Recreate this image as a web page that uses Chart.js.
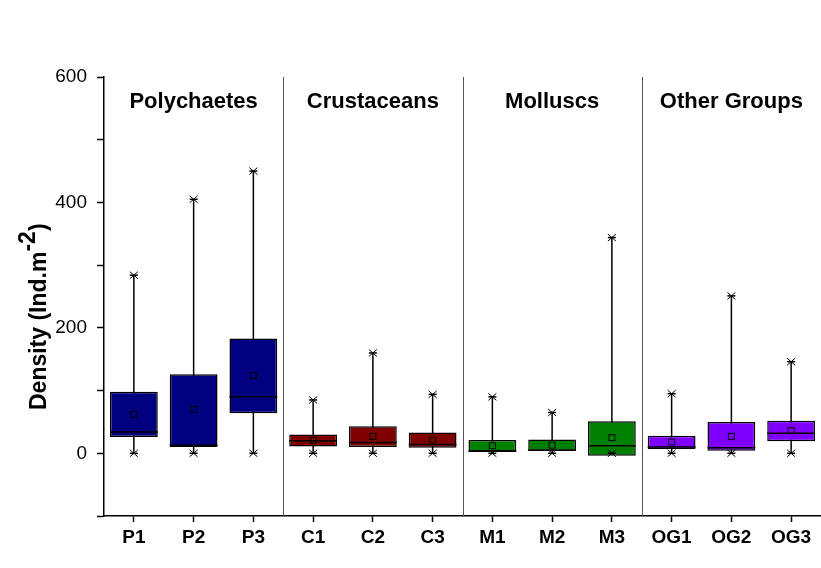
<!DOCTYPE html>
<html>
<head>
<meta charset="utf-8">
<script src="https://cdn.jsdelivr.net/npm/chart.js@4"></script>
<style>
  html, body { margin: 0; padding: 0; background: #fff; }
  #wrap { width: 821px; height: 568px; position: relative; }
</style>
</head>
<body>
<div id="wrap"><canvas id="boxChart"></canvas></div>
<script>
// Data
const categories = ['P1', 'P2', 'P3', 'C1', 'C2', 'C3', 'M1', 'M2', 'M3', 'OG1', 'OG2', 'OG3'];
const groupNames = ['Polychaetes', 'Crustaceans', 'Molluscs', 'Other Groups'];
const groupColors = ['#000080', '#800000', '#008000', '#8000ff'];
const groupOf = [0, 0, 0, 1, 1, 1, 2, 2, 2, 3, 3, 3];
const q1 = [26, 10, 64, 11, 10, 9, 2, 4, -4, 7, 4, 19];
const q3 = [98, 126, 183, 30, 43, 33, 21, 22, 51, 28, 50, 52];
const median = [34, 13, 90, 20, 17, 14, 4, 5, 12, 10, 9, 32];
const mean = [62, 70, 124, 21, 27, 21, 12, 13, 25, 18, 27, 36];
const whiskerLow = [0, 0, 0, 0, 0, 0, 0, 0, 0, 0, 0, 0];
const whiskerHigh = [284, 405, 450, 85, 160, 94, 90, 65, 344, 95, 251, 146];
const labelValue = 560; // height where the group names sit
const yTitle = ['Density (Ind.m', '-2', ')']; // text, superscript, closing

const FONT = "Arial, 'Liberation Sans', sans-serif";

// whiskers, medians, means, dividers and group names
const boxExtras = {
    id: 'boxExtras',
    beforeDatasetsDraw(chart) {
        const ctx = chart.ctx;
        const y = chart.scales.y;
        const x = chart.scales.x;
        const area = chart.chartArea;
        ctx.save();
        // group dividers
        ctx.strokeStyle = '#555';
        ctx.lineWidth = 1;
        for (let i = 1; i < categories.length; i++) {
            if (groupOf[i] !== groupOf[i - 1]) {
                const xp = Math.round((x.getPixelForValue(i - 1) + x.getPixelForValue(i)) / 2) + 0.5;
                ctx.beginPath();
                ctx.moveTo(xp, area.top);
                ctx.lineTo(xp, area.bottom);
                ctx.stroke();
            }
        }
        // whisker lines
        ctx.strokeStyle = '#000';
        ctx.lineWidth = 1.5;
        categories.forEach((c, i) => {
            const xp = x.getPixelForValue(i);
            ctx.beginPath();
            ctx.moveTo(xp, y.getPixelForValue(whiskerLow[i]));
            ctx.lineTo(xp, y.getPixelForValue(whiskerHigh[i]));
            ctx.stroke();
        });
        ctx.restore();
    },
    afterDatasetsDraw(chart) {
        const ctx = chart.ctx;
        const y = chart.scales.y;
        const x = chart.scales.x;
        const bars = chart.getDatasetMeta(0).data;
        ctx.save();
        ctx.strokeStyle = '#000';
        categories.forEach((c, i) => {
            const xp = x.getPixelForValue(i);
            const half = bars[i].width / 2;
            // median
            ctx.lineWidth = 1.5;
            const ym = y.getPixelForValue(median[i]);
            ctx.beginPath();
            ctx.moveTo(xp - half, ym);
            ctx.lineTo(xp + half, ym);
            ctx.stroke();
            // mean square
            ctx.lineWidth = 1;
            const ya = y.getPixelForValue(mean[i]);
            ctx.strokeRect(xp - 3, ya - 3, 6, 6);
            // whisker ends: cross + dash
            [whiskerLow[i], whiskerHigh[i]].forEach(v => {
                const yp = y.getPixelForValue(v);
                ctx.lineWidth = 1;
                ctx.beginPath();
                ctx.moveTo(xp - 4, yp - 3.5);
                ctx.lineTo(xp + 4, yp + 3.5);
                ctx.moveTo(xp - 4, yp + 3.5);
                ctx.lineTo(xp + 4, yp - 3.5);
                ctx.stroke();
                ctx.lineWidth = 1.5;
                ctx.beginPath();
                ctx.moveTo(xp - 4, yp);
                ctx.lineTo(xp + 4, yp);
                ctx.stroke();
            });
        });
        // group names
        ctx.fillStyle = '#000';
        ctx.font = 'bold 22px ' + FONT;
        ctx.textAlign = 'center';
        ctx.textBaseline = 'middle';
        groupNames.forEach((name, g) => {
            const idx = groupOf.map((v, i) => v === g ? i : -1).filter(i => i >= 0);
            const xc = (x.getPixelForValue(idx[0]) + x.getPixelForValue(idx[idx.length - 1])) / 2;
            ctx.fillText(name, xc, y.getPixelForValue(labelValue));
        });
        ctx.restore();
    },
    afterDraw(chart) {
        // y axis title with a raised "-2"
        const ctx = chart.ctx;
        const y = chart.scales.y;
        ctx.save();
        ctx.font = 'bold 23px ' + FONT;
        ctx.fillStyle = '#000';
        ctx.textAlign = 'left';
        ctx.textBaseline = 'alphabetic';
        ctx.translate(46, y.getPixelForValue(69));
        ctx.rotate(-Math.PI / 2);
        let pos = 0;
        ctx.fillText(yTitle[0], pos, 0);
        pos += ctx.measureText(yTitle[0]).width;
        ctx.fillText(yTitle[1], pos, -11);
        pos += ctx.measureText(yTitle[1]).width;
        ctx.fillText(yTitle[2], pos, 0);
        ctx.restore();
    }
};

const ctx = document.getElementById('boxChart').getContext('2d');
new Chart(ctx, {
    type: 'bar',
    data: {
        labels: categories,
        datasets: [{
            label: 'Density',
            data: categories.map((c, i) => [q1[i], q3[i]]),
            backgroundColor: groupOf.map(g => groupColors[g]),
            borderColor: '#000',
            borderWidth: 1.5,
            borderSkipped: false,
            barPercentage: 0.8,
            categoryPercentage: 1
        }]
    },
    options: {
        responsive: true,
        maintainAspectRatio: false,
        animation: false,
        devicePixelRatio: 1,
        layout: { padding: { top: 77, right: 0, bottom: 0, left: 0 } },
        plugins: {
            legend: { display: false },
            tooltip: { enabled: false }
        },
        scales: {
            x: {
                offset: true,
                grid: { display: true, drawOnChartArea: false, offset: false, tickLength: 6, color: '#000', tickWidth: 1.5 },
                border: { display: true, color: '#000', width: 1.5 },
                ticks: { color: '#000', padding: 4, font: { family: FONT, size: 19, weight: 'bold' }, maxRotation: 0, autoSkip: false },
                afterFit(scale) { scale.height = 52; }
            },
            y: {
                min: -100,
                max: 600,
                grid: { display: true, drawOnChartArea: false, tickLength: 7, color: '#000', tickWidth: 1.5 },
                border: { display: true, color: '#000', width: 1.5 },
                ticks: {
                    stepSize: 100,
                    color: '#000',
                    padding: 10,
                    font: { family: FONT, size: 19 },
                    callback: v => (v >= 0 && v % 200 === 0) ? String(v) : ''
                },
                title: { display: false },
                afterFit(scale) { scale.width = 104; }
            }
        }
    },
    plugins: [boxExtras]
});
</script>
</body>
</html>
